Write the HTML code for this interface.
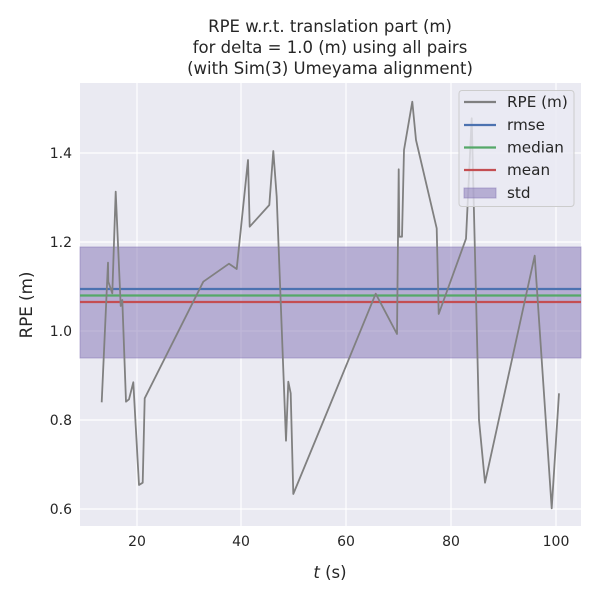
<!DOCTYPE html>
<html><head><meta charset="utf-8"><style>body{margin:0;background:#fff}svg{display:block;font-family:"DejaVu Sans","Liberation Sans",sans-serif}</style></head><body>
<svg width="600" height="600" viewBox="0 0 600 600" xmlns="http://www.w3.org/2000/svg">
<rect width="600" height="600" fill="#fff"/>
<rect x="80" y="83" width="501" height="443" fill="#eaeaf2"/>
<g stroke="#fff" stroke-width="1.2">
<line x1="137" y1="83" x2="137" y2="526"/><line x1="241" y1="83" x2="241" y2="526"/><line x1="346" y1="83" x2="346" y2="526"/><line x1="451" y1="83" x2="451" y2="526"/><line x1="556" y1="83" x2="556" y2="526"/>
<line x1="80" y1="153" x2="581" y2="153"/><line x1="80" y1="242" x2="581" y2="242"/><line x1="80" y1="331" x2="581" y2="331"/><line x1="80" y1="420" x2="581" y2="420"/><line x1="80" y1="509" x2="581" y2="509"/>
</g>
<rect x="80" y="247" width="501" height="111" fill="#8172b3" fill-opacity="0.5" stroke="#8172b3" stroke-opacity="0.5"/>
<line x1="80" y1="289" x2="581" y2="289" stroke="#4c72b0" stroke-width="2.2"/>
<line x1="80" y1="295.5" x2="581" y2="295.5" stroke="#55a868" stroke-width="2.2"/>
<line x1="80" y1="302" x2="581" y2="302" stroke="#c44e52" stroke-width="2.2"/>
<polyline fill="none" stroke="#808080" stroke-width="1.8" stroke-linejoin="round" points="101.7,402.3 108,262.7 108.3,281.7 112.3,293.3 115.7,191.7 120.7,306 122.3,300 126,401.7 129,399.3 133.3,382.3 139,485 142.7,482.7 144.7,398.3 203.3,281.7 229,263.7 236.7,269 248,160 249.7,226.7 269.3,205 273.3,151 276.7,196.7 286,440.7 288.3,381.7 290.7,393.3 293.3,494 330,405 375.7,293.7 397,334 398.7,169.3 399.3,236.7 402,236.7 404,150 412.3,101.7 416,140 436.7,228.3 438.7,314 466,238.7 471.7,118.3 479,420 485,482.7 534.7,255.7 551.7,508.3 559,393.3"/>
<rect x="459" y="90.5" width="115" height="116" rx="3" fill="#eaeaf2" fill-opacity="0.8" stroke="#ccc"/>
<g stroke-width="2.2"><line x1="464" y1="102" x2="496" y2="102" stroke="#808080"/><line x1="464" y1="125" x2="496" y2="125" stroke="#4c72b0"/><line x1="464" y1="147.5" x2="496" y2="147.5" stroke="#55a868"/><line x1="464" y1="170" x2="496" y2="170" stroke="#c44e52"/></g>
<rect x="464" y="188" width="32" height="10" fill="#8172b3" fill-opacity="0.5" stroke="#8172b3" stroke-opacity="0.5"/>
<g font-size="15.2" fill="#262626"><text x="507" y="107">RPE (m)</text><text x="507" y="130">rmse</text><text x="507" y="152.5">median</text><text x="507" y="175">mean</text><text x="507" y="198">std</text></g>
<g font-size="14" fill="#262626" text-anchor="middle">
<text x="137" y="546">20</text><text x="241" y="546">40</text><text x="346" y="546">60</text><text x="451" y="546">80</text><text x="556" y="546">100</text>
</g>
<g font-size="16.5" fill="#262626" text-anchor="middle">
<text x="330" y="578"><tspan font-style="italic">t</tspan> (s)</text>
<text x="330" y="32">RPE w.r.t. translation part (m)</text>
<text x="330" y="53">for delta = 1.0 (m) using all pairs</text>
<text x="330" y="74">(with Sim(3) Umeyama alignment)</text>
</g>
<g font-size="14" fill="#262626" text-anchor="end">
<text x="72" y="158">1.4</text><text x="72" y="247">1.2</text><text x="72" y="336">1.0</text><text x="72" y="425">0.8</text><text x="72" y="514">0.6</text>
</g>
<text transform="translate(32,305) rotate(-90)" font-size="16.7" fill="#262626" text-anchor="middle">RPE (m)</text>
</svg>
</body></html>
